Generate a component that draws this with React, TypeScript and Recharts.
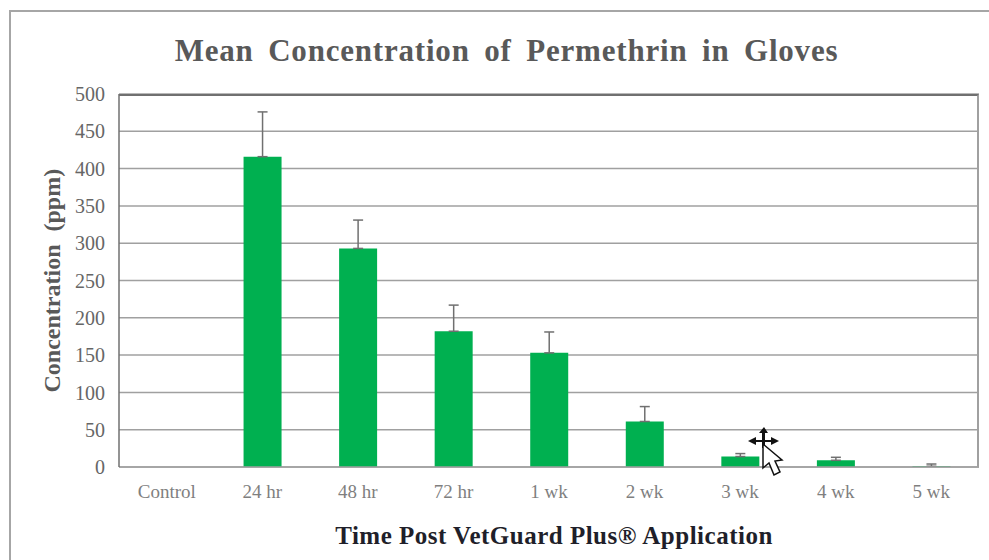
import React from "react";
import { BarChart, Bar, XAxis, YAxis, CartesianGrid, ErrorBar } from "recharts";

const categories = ["Control", "24 hr", "48 hr", "72 hr", "1 wk", "2 wk", "3 wk", "4 wk", "5 wk"];
const means = [0, 416, 293, 182, 153, 61, 14, 9, 1];
const upperErrors = [0, 60, 38, 35, 28, 20, 4, 4, 3];
const yTicks = [0, 50, 100, 150, 200, 250, 300, 350, 400, 450, 500];

const data = categories.map((name, i) => ({ name, mean: means[i], err: [0, upperErrors[i]] }));
const serif = "'Liberation Serif', serif";

export default function App() {
  return (
    <div style={{ position: "absolute", left: 0, top: 0, width: 989, height: 560, background: "#fff", overflow: "hidden" }}>
      <div style={{ position: "absolute", left: 9, top: 10, width: 1020, height: 600, border: "2px solid #a6a6a6", boxSizing: "border-box" }} />
      <BarChart
        width={989}
        height={560}
        data={data}
        barSize={38}
        margin={{ top: 94, right: 10, bottom: 63, left: 69 }}
        style={{ position: "absolute", left: 0, top: 0 }}
      >
        <text x={506.5} y={61} textAnchor="middle" fontFamily={serif} fontWeight={700} fontSize={31} fill="#595959" letterSpacing={0.8} wordSpacing={6}>
          Mean Concentration of Permethrin in Gloves
        </text>
        <CartesianGrid horizontal vertical={false} stroke="#a0a0a0" strokeWidth={1.5} />
        <XAxis
          dataKey="name"
          axisLine={{ stroke: "#a0a0a0", strokeWidth: 1.5 }}
          tickLine={false}
          interval={0}
          tick={{ fontFamily: serif, fontSize: 19, fill: "#7f7f7f" }}
          tickMargin={12}
          label={{ value: "Time Post VetGuard Plus® Application", position: "insideBottom", offset: -47, dx: 5, style: { fontFamily: serif, fontWeight: 700, fontSize: 25, fill: "#1f1f2a", letterSpacing: 0.5 } }}
        />
        <YAxis
          domain={[0, 500]}
          ticks={yTicks}
          width={50}
          axisLine={{ stroke: "#707070", strokeWidth: 1.5 }}
          tickLine={false}
          tick={{ fontFamily: serif, fontSize: 20, fill: "#666666" }}
          tickMargin={8}
          label={{ value: "Concentration (ppm)", angle: -90, position: "insideLeft", dx: -23, dy: 112, style: { fontFamily: serif, fontWeight: 700, fontSize: 24, fill: "#595959", wordSpacing: 7 } }}
        />
        <Bar dataKey="mean" fill="#00b050" isAnimationActive={false}>
          <ErrorBar dataKey="err" direction="y" width={5} stroke="#707070" strokeWidth={1.5} isAnimationActive={false} />
        </Bar>
      </BarChart>
      <div style={{ position: "absolute", left: 119, top: 94, width: 860, height: 373, borderTop: "2px solid #707070", borderRight: "2px solid #a0a0a0", boxSizing: "border-box", pointerEvents: "none" }} />
      <svg width={989} height={560} style={{ position: "absolute", left: 0, top: 0, pointerEvents: "none" }}>
        <path d="M764 427 L768 433 L765 433 L765 440 L771 440 L771 437 L779 441 L771 445 L771 442 L765 442 L765 448 L762 448 L762 442 L756 442 L756 445 L748 441 L756 437 L756 440 L762 440 L762 433 L759 433 Z" fill="#111" />
        <path d="M763 444 L763 468 L769 463 L774 475 L780 472 L775 461 L782 460 Z" fill="#fff" stroke="#111" strokeWidth={1.5} />
      </svg>
    </div>
  );
}
